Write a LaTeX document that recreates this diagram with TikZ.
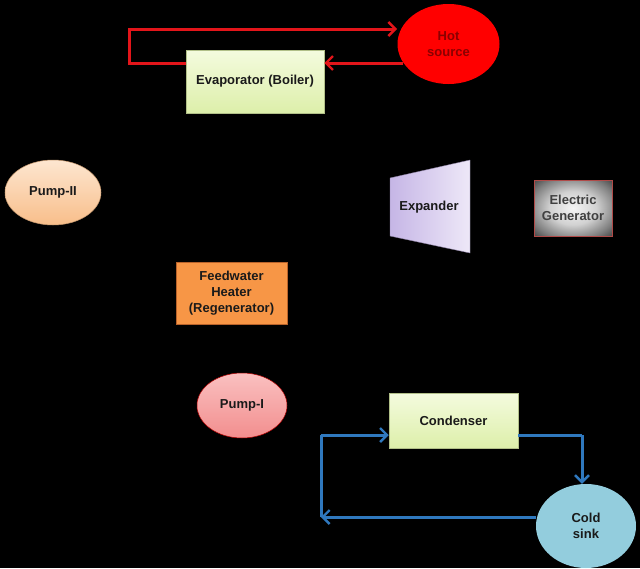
\documentclass[tikz,border=0pt]{standalone}
\usepackage{fontspec}
\setmainfont{Liberation Sans}
\usetikzlibrary{shapes.geometric,arrows.meta}
\definecolor{boxgreenA}{HTML}{F4FBDE}
\definecolor{boxgreenB}{HTML}{DDEFAA}
\definecolor{hotred}{HTML}{FF0000}
\definecolor{linered}{HTML}{E3151A}
\definecolor{lineblue}{HTML}{2F78BE}
\definecolor{coldblue}{HTML}{93CDDD}
\definecolor{peachA}{HTML}{FDE6D0}
\definecolor{peachB}{HTML}{F8BE8A}
\definecolor{fworange}{HTML}{F79646}
\definecolor{fwborder}{HTML}{B8622A}
\definecolor{pinkA}{HTML}{FAC0C0}
\definecolor{pinkB}{HTML}{F28E8E}
\definecolor{lavA}{HTML}{C6B6E6}
\definecolor{lavB}{HTML}{EEE8F8}
\definecolor{genborder}{HTML}{B04A48}
\definecolor{textdark}{HTML}{1A1A1A}
\definecolor{hottext}{HTML}{8A0000}
\pgfdeclareradialshading{genshade}{\pgfpoint{0bp}{0bp}}{%
  color(0bp)=(black!4); color(15bp)=(black!18); color(28bp)=(black!50);
  color(40bp)=(black!85); color(50bp)=(black)}
\tikzset{
  every node/.style={font=\fontsize{13}{16}\selectfont\bfseries, text=textdark, align=center},
  greenbox/.style={rectangle, draw=boxgreenB!80!black, line width=0.5pt, top color=boxgreenA, bottom color=boxgreenB, inner sep=0pt},
  ovalnode/.style={ellipse, inner sep=0pt},
  redflow/.style={draw=linered, line width=3pt, -{Straight Barb[length=7pt,width=14pt,line width=2.4pt]}},
  blueflow/.style={draw=lineblue, line width=3pt, -{Straight Barb[length=7pt,width=14pt,line width=2.4pt]}},
  blueline/.style={draw=lineblue, line width=3pt},
}
\begin{document}
\begin{tikzpicture}[x=1pt,y=-1pt]
\fill[black] (0,0) rectangle (640,568);
\useasboundingbox (0,0) rectangle (640,568);

% Evaporator and hot source
\node[greenbox, minimum width=138pt, minimum height=63pt] (evap) at (255,81.5) {Evaporator (Boiler)};
\node[ovalnode, fill=hotred, minimum width=102pt, minimum height=80pt, text=hottext] (hot) at (448.5,44) {Hot\\source};
\coordinate (r1) at (129,63);
\coordinate (r2) at (129,29);
\coordinate (r3) at (397,29);
\draw[redflow] (evap.west |- r1) -- (r1) -- (r2) -- (r3);
\draw[redflow] (403,63) -- (evap.east |- r1);

% Pump-II
\node[ovalnode, draw=peachB!80!black, line width=0.5pt, top color=peachA, bottom color=peachB, minimum width=96pt, minimum height=65pt] (pump2) at (53,192.5) {Pump-II};

% Feedwater heater
\node[rectangle, draw=fwborder, line width=1pt, fill=fworange, minimum width=111pt, minimum height=62pt, inner sep=0pt] (fwh) at (231.5,293) {Feedwater\\Heater\\(Regenerator)};

% Expander
\coordinate (e1) at (390,178);
\coordinate (e2) at (470,160);
\coordinate (e3) at (470,253);
\coordinate (e4) at (390,236);
\shade[left color=lavA, right color=lavB, draw=lavA!70!black, line width=0.4pt] (e1) -- (e2) -- (e3) -- (e4) -- cycle;
\node (exp) at (429,207) {Expander};

% Electric generator
\node[rectangle, draw=genborder, line width=1pt, shading=genshade, minimum width=78pt, minimum height=56pt, inner sep=0pt, text=black!75] (gen) at (573,208) {Electric\\Generator};

% Pump-I
\node[ovalnode, draw=red!70!black, line width=0.5pt, top color=pinkA, bottom color=pinkB, minimum width=90pt, minimum height=65pt] (pump1) at (242,405.5) {Pump-I};

% Condenser and cold sink
\node[greenbox, minimum width=129pt, minimum height=55pt] (cond) at (453.5,420.5) {Condenser};
\node[ovalnode, fill=coldblue, minimum width=100pt, minimum height=84pt] (cold) at (586,526) {Cold\\sink};
\coordinate (b1) at (582,435);
\coordinate (b2) at (321,517);
\coordinate (b3) at (321,435);
\draw[blueline] (cond.east |- b1) -- (b1);
\draw[blueflow] (b1) -- (cold.north -| b1);
\draw[blueflow] (cold.west |- b2) -- (b2);
\draw[blueline] (b2) -- (b3);
\draw[blueflow] (b3) -- (cond.west |- b3);
\end{tikzpicture}
\end{document}
